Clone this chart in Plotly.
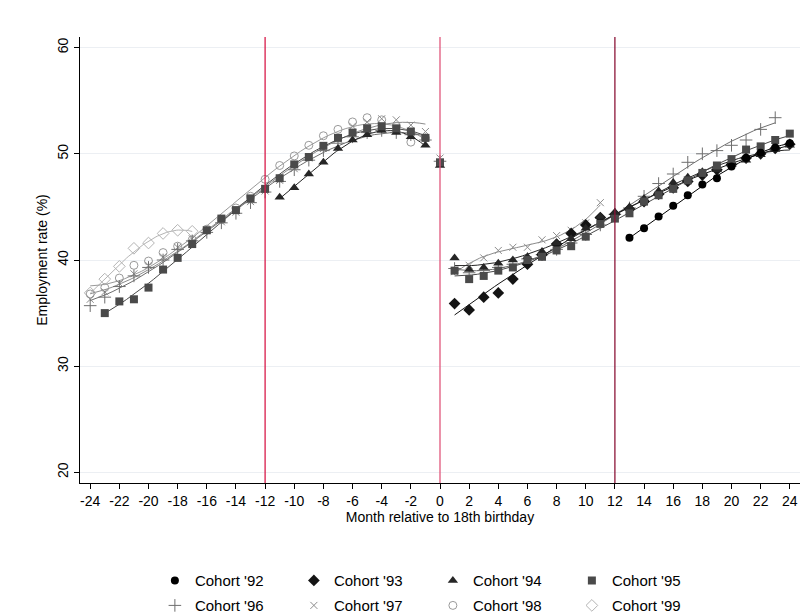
import numpy as np
import plotly.graph_objects as go

# ---------------- data ----------------
cohorts = ["'92", "'93", "'94", "'95", "'96", "'97", "'98", "'99"]

months_92 = list(range(13, 25))
rate_92 = [42.1, 43.0, 44.1, 45.1, 46.1, 47.1, 47.7, 48.8, 49.6, 50.1, 50.6, 51.0]

months_93 = list(range(1, 25))
rate_93 = [35.9, 35.3, 36.5, 36.9, 38.2, 39.6, 40.5, 41.5, 42.5, 43.3, 44.0, 44.3,
           44.8, 45.5, 46.2, 46.8, 47.4, 48.0, 48.5, 49.0, 49.6, 50.0, 50.5, 50.9]

months_94 = list(range(-11, 25))
rate_94 = [45.9, 46.8, 48.1, 49.2, 50.5, 51.3, 51.8, 52.2, 52.0, 51.6, 50.8,
           48.9,
           40.2, 39.1, 39.3, 39.7, 40.0, 40.3, 40.8, 41.6, 42.0, 43.0, 44.1, 44.5,
           45.0, 45.8, 46.5, 47.3, 47.8, 48.3, 48.5, 49.0, 49.4, 49.9, 50.4, 50.8]

months_95 = list(range(-23, 25))
rate_95 = [35.0, 36.1, 36.3, 37.4, 39.1, 40.2, 41.5, 42.8, 43.9, 44.7, 45.8, 46.7,
           47.7, 49.0, 49.7, 50.75, 51.5, 52.0, 52.4, 52.6, 52.4, 52.1, 51.5,
           49.2,
           39.0, 38.2, 38.5, 39.0, 39.3, 40.0, 40.3, 40.9, 41.3, 42.2, 43.4, 43.9,
           44.4, 45.5, 46.1, 46.7, 47.5, 48.2, 48.9, 49.5, 50.4, 50.7, 51.3, 51.9]

months_96 = list(range(-24, 24))
rate_96 = [35.7, 36.5, 37.5, 38.5, 39.3, 40.0, 41.0, 41.8, 42.6, 43.5, 44.4, 45.4,
           46.4, 47.4, 48.5, 49.4, 50.3, 51.0, 51.6, 52.0, 52.2, 52.0, 51.8, 51.3,
           49.3,
           39.2, 38.8, 39.0, 39.3, 39.6, 40.1, 40.5, 41.0, 41.6, 42.4, 43.3, 44.3,
           44.9, 46.0, 47.2, 48.1, 49.2, 50.0, 50.3, 50.8, 51.3, 52.3, 53.4]

months_97 = list(range(-24, 12))
rate_97 = [36.3, 37.0, 37.8, 38.7, 39.5, 40.3, 41.2, 42.0, 42.8, 43.6, 44.5, 45.5,
           46.5, 47.5, 48.6, 49.6, 50.5, 51.4, 52.6, 53.0, 53.3, 53.2, 52.7, 52.1,
           49.6,
           38.9, 39.5, 40.2, 40.9, 41.2, 41.2, 41.9, 42.3, 42.8, 43.5, 45.4]

months_98 = list(range(-24, 0))
rate_98 = [36.8, 37.4, 38.3, 39.5, 39.9, 40.7, 41.3, 41.9, 42.9, 43.8, 44.9, 46.0,
           47.6, 48.9, 49.8, 50.8, 51.7, 52.3, 53.0, 53.4, 53.2, 52.6, 51.1, 51.5]

months_99 = list(range(-24, -16))
rate_99 = [36.9, 38.2, 39.4, 41.1, 41.6, 42.5, 42.8, 42.7]

x_ticks = list(range(-24, 25, 2))
x_tick_labels = [str(v) for v in x_ticks]
y_ticks = [20, 30, 40, 50, 60]
cutoffs = [-12, 0, 12]

# ---------------- styling ----------------
FONT = "Liberation Sans, Arial, sans-serif"
series = [
    (months_92, rate_92, dict(symbol="circle", color="#000000", size=8, lw=0)),
    (months_93, rate_93, dict(symbol="diamond", color="#141414", size=9, lw=0)),
    (months_94, rate_94, dict(symbol="triangle-up", color="#262626", size=9, lw=0)),
    (months_95, rate_95, dict(symbol="square", color="#4a4a4a", size=8, lw=0)),
    (months_96, rate_96, dict(symbol="cross-thin", color="#6e6e6e", size=9, lw=1)),
    (months_97, rate_97, dict(symbol="x-thin", color="#8c8c8c", size=7, lw=1)),
    (months_98, rate_98, dict(symbol="circle-open", color="#9a9a9a", size=8, lw=1)),
    (months_99, rate_99, dict(symbol="diamond-open", color="#b4b4b4", size=9, lw=1)),
]
draw_order = [7, 6, 5, 4, 1, 2, 3, 0]
cutoff_colors = ["#d81b4a", "#e0577c", "#8b1538"]

fig = go.Figure()

# fitted curves (separately before / after the 18th birthday)
for i in draw_order:
    m, r, st = series[i]
    m = np.array(m, dtype=float)
    r = np.array(r, dtype=float)
    for mask in (m < 0, m > 0):
        if mask.sum() >= 4:
            xs, ys = m[mask], r[mask]
            deg = min(3, len(xs) - 1)
            coef = np.polyfit(xs, ys, deg)
            xf = np.linspace(xs.min(), xs.max(), 60)
            fig.add_trace(go.Scatter(
                x=xf, y=np.polyval(coef, xf), mode="lines",
                line=dict(color=st["color"], width=1),
                showlegend=False, hoverinfo="skip"))

# markers
for i in draw_order:
    m, r, st = series[i]
    fig.add_trace(go.Scatter(
        x=m, y=r, mode="markers",
        name="Cohort " + cohorts[i],
        legend="legend" if i < 4 else "legend2",
        legendrank=i + 1,
        marker=dict(symbol=st["symbol"], color=st["color"], size=st["size"],
                    line=dict(color=st["color"], width=st["lw"])),
    ))

for c, col in zip(cutoffs, cutoff_colors):
    fig.add_shape(type="line", xref="x", yref="paper", x0=c, x1=c, y0=0, y1=1,
                  line=dict(color=col, width=1.3))

legend_common = dict(orientation="h", xanchor="left", x=0.104, yanchor="top",
                     entrywidth=94, entrywidthmode="pixels", itemwidth=30,
                     font=dict(family=FONT, size=15, color="#000000"),
                     bgcolor="rgba(0,0,0,0)", traceorder="normal")

fig.update_layout(
    width=803, height=608,
    margin=dict(l=72, r=11, t=29, b=133, autoexpand=False),
    paper_bgcolor="white", plot_bgcolor="white",
    font=dict(family=FONT, size=14, color="#000000"),
    legend=dict(y=-0.182, **legend_common),
    legend2=dict(y=-0.238, **legend_common),
    xaxis=dict(range=[-24.7, 24.7], tickmode="array", tickvals=x_ticks,
               ticktext=x_tick_labels, automargin=False,
               ticks="outside", ticklen=5, tickcolor="#000000",
               showline=True, linecolor="#000000", linewidth=1,
               showgrid=False, zeroline=False,
               tickfont=dict(size=14),
               title=dict(text="Month relative to 18th birthday",
                          font=dict(size=14), standoff=2)),
    yaxis=dict(range=[19, 61], tickmode="array", tickvals=y_ticks,
               automargin=False,
               ticks="outside", ticklen=5, tickcolor="#000000", tickangle=-90,
               showline=True, linecolor="#000000", linewidth=1,
               showgrid=True, gridcolor="#eceff3", gridwidth=1, zeroline=False,
               tickfont=dict(size=14),
               title=dict(text="Employment rate (%)", font=dict(size=14),
                          standoff=4)),
)

fig.write_html("out.html")
